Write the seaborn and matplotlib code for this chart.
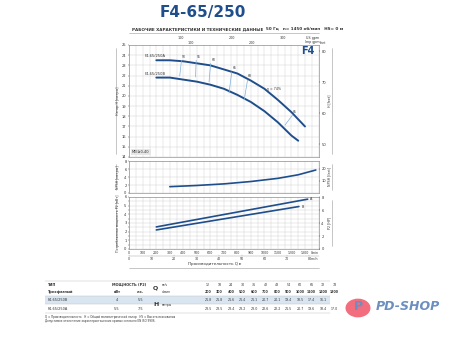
import numpy as np
import pandas as pd
import matplotlib
matplotlib.use("Agg")
import matplotlib.pyplot as plt
import seaborn as sns
from matplotlib.patches import Rectangle, Circle

sns.set_style("white")
plt.rcParams['font.family'] = ['DejaVu Sans']

# ---------------- data ----------------
Q_lmin = [200, 300, 400, 500, 600, 700, 800, 900, 1000, 1100, 1200, 1300]
Q_m3h = [12, 18, 24, 30, 36, 42, 48, 54, 60, 66, 72, 78]
H_A = [23.5, 23.5, 23.4, 23.2, 23.0, 22.6, 22.2, 21.5, 20.7, 19.6, 18.4, 17.0]
Q_B = [200, 300, 400, 500, 600, 700, 800, 900, 1000, 1100, 1200, 1250]
H_B = [21.8, 21.8, 21.6, 21.4, 21.1, 20.7, 20.1, 19.4, 18.5, 17.4, 16.1, 15.6]
H_A_tab = ["23.5", "23.5", "23.4", "23.2", "23.0", "22.6", "22.2", "21.5", "20.7", "19.6", "18.4", "17.0"]
H_B_tab = ["21.8", "21.8", "21.6", "21.4", "21.1", "20.7", "20.1", "19.4", "18.5", "17.4", "16.1", ""]

Q_npsh = [300, 500, 700, 900, 1100, 1250, 1380]
NPSH = [1.6, 1.9, 2.3, 2.9, 3.7, 4.6, 5.8]

Q_pA = [200, 1320]
P_A = [2.55, 5.75]
Q_pB = [200, 1255]
P_B = [2.2, 4.9]

eff_QA = [386, 495, 602, 758, 875, 1208]
eff_HA = [23.5, 23.5, 23.2, 22.35, 21.56, 18.12]
eff_QB = [373, 490, 590, 738, 850, 1152]
eff_HB = [21.95, 21.86, 21.37, 20.28, 19.6, 17.14]
eff_lbl = ["50", "55", "60", "65", "68", "65"]

x_ticks = [0, 100, 200, 300, 400, 500, 600, 700, 800, 900, 1000, 1100, 1200, 1300]
m3h_ticks = [0, 10, 20, 30, 40, 50, 60, 70, 80]
usgpm_ticks = [100, 200, 300]
impgpm_ticks = [100, 200]

BLUE = "#1f4e8c"
LBLUE = "#7fb0dd"
TXT = "#333333"

W, H = 450, 337
fig = plt.figure(figsize=(4.5, 3.37), dpi=100)

X0, X1 = 129.3, 318.5
PXQ = (X1 - X0) / 1400.0


def ax_px(x0, y0, x1, y1):
    return fig.add_axes([x0 / W, 1 - y1 / H, (x1 - x0) / W, (y1 - y0) / H])


def fx(x):
    return x / W


def fy(y):
    return 1 - y / H


fs = 2.6

# title
fig.text(fx(160), fy(12), "F4-65/250", fontsize=11, fontweight="bold", color=BLUE, va="center")
fig.text(fx(132), fy(29), "РАБОЧИЕ ХАРАКТЕРИСТИКИ И ТЕХНИЧЕСКИЕ ДАННЫЕ", fontsize=3, fontweight="bold", color=TXT, va="center")
fig.text(fx(266), fy(29), "50 Гц   n= 1450 об/мин   HS= 0 м", fontsize=3, fontweight="bold", color=TXT, va="center")
fig.add_artist(plt.Line2D([fx(X0), fx(X1)], [fy(33), fy(33)], color="#999999", lw=0.4))


def style(ax, ylim, yticks):
    ax.set_xlim(0, 1400)
    ax.set_ylim(*ylim)
    ax.set_xticks(np.arange(0, 1401, 50))
    ax.set_yticks(yticks)
    ax.grid(True, color="#cccccc", lw=0.3)
    ax.tick_params(labelsize=fs, length=1, width=0.3, pad=1, colors=TXT)
    ax.set_xticklabels([])
    for s in ax.spines.values():
        s.set_color("#777777")
        s.set_linewidth(0.4)
    ax.set_xlabel("")
    ax.set_ylabel("")


def right_axis(ax, lim, ticks):
    r = ax.twinx()
    r.set_ylim(*lim)
    r.set_yticks(ticks)
    r.tick_params(labelsize=fs, length=1, width=0.3, pad=1, colors=TXT)
    for s in r.spines.values():
        s.set_visible(False)
    return r


# ---------- head panel ----------
axH = ax_px(X0, 45, X1, 157)
dfA = pd.DataFrame({"Q": Q_lmin, "H": H_A})
dfB = pd.DataFrame({"Q": Q_B, "H": H_B})
sns.lineplot(data=dfA, x="Q", y="H", ax=axH, color=BLUE, lw=1.4)
sns.lineplot(data=dfB, x="Q", y="H", ax=axH, color=BLUE, lw=1.4)
for qa, ha, qb, hb, l in zip(eff_QA, eff_HA, eff_QB, eff_HB, eff_lbl):
    axH.plot([qa, qb], [ha, hb], color=LBLUE, lw=0.5)
    axH.text(qa + 5, ha + 0.25, l, fontsize=2.2, color=TXT)
style(axH, (14, 25), np.arange(14, 26, 1))
axH.text(115, 23.95, "F4-65/250A", fontsize=2.6, color=TXT, va="center")
axH.text(115, 22.2, "F4-65/250B", fontsize=2.6, color=TXT, va="center")
axH.text(1020, 20.6, "η = 74%", fontsize=2.3, color=TXT)
axH.text(1370, 24.4, "F4", fontsize=7, fontweight="bold", color=BLUE, ha="right", va="center")
axH.text(20, 14.5, "MEI≥0,40", fontsize=2.6, color=TXT, va="center",
         bbox=dict(boxstyle="square,pad=0.3", fc="#e6e6e6", ec="none"))
right_axis(axH, (14 / 0.3048, 25 / 0.3048), [50, 60, 70, 80])
axH.text(1.01, 1.01, "feet", transform=axH.transAxes, fontsize=2.3, color=TXT)
# top axes
for yy, ticks, conv, unit in [(38, usgpm_ticks, 3.785, "US gpm"), (42.5, impgpm_ticks, 4.546, "Imp gpm")]:
    for t in ticks:
        q = t * conv
        fig.text(fx(X0 + q * PXQ), fy(yy), str(t), fontsize=2.4, color=TXT, ha="center", va="center")
    fig.text(fx(312), fy(yy), unit, fontsize=2.4, color=TXT, ha="center", va="center")

# ---------- NPSH panel ----------
axN = ax_px(X0, 160.5, X1, 193)
dfN = pd.DataFrame({"Q": Q_npsh, "N": NPSH})
sns.lineplot(data=dfN, x="Q", y="N", ax=axN, color=BLUE, lw=1.2)
style(axN, (0, 8.2), [0, 2, 4, 6, 8])
right_axis(axN, (0, 8.2 / 0.3048), [10, 20])

# ---------- power panel ----------
axP = ax_px(X0, 197, X1, 249)
dfPA = pd.DataFrame({"Q": Q_pA, "P": P_A})
dfPB = pd.DataFrame({"Q": Q_pB, "P": P_B})
sns.lineplot(data=dfPA, x="Q", y="P", ax=axP, color=BLUE, lw=1.2)
sns.lineplot(data=dfPB, x="Q", y="P", ax=axP, color=BLUE, lw=1.2)
style(axP, (0, 6), [0, 1, 2, 3, 4, 5, 6])
axP.set_yticks(np.arange(0, 6.01, 0.5))
axP.set_yticklabels(["0", "", "1", "", "2", "", "3", "", "4", "", "5", "", "6"])
axP.text(Q_pA[-1] + 20, P_A[-1], "A", fontsize=2.4, color=TXT, va="center")
axP.text(Q_pB[-1] + 20, P_B[-1], "B", fontsize=2.4, color=TXT, va="center")
right_axis(axP, (0, 6 / 0.7457), [0, 2, 4, 6, 8])

# bottom scales
for t in x_ticks:
    fig.text(fx(X0 + t * PXQ), fy(252.5), str(t), fontsize=2.3, color=TXT, ha="center", va="center")
fig.text(fx(X0 + 1340 * PXQ), fy(252.5), "l/min", fontsize=2.3, color=TXT, ha="left", va="center")
fig.add_artist(plt.Line2D([fx(X0), fx(X1)], [fy(256.3), fy(256.3)], color="#999999", lw=0.3))
for t in m3h_ticks:
    xx = X0 + t * 1000 / 60 * PXQ
    fig.add_artist(plt.Line2D([fx(xx), fx(xx)], [fy(256.3), fy(255.3)], color="#999999", lw=0.3))
    fig.text(fx(xx), fy(258.5), str(t), fontsize=2.3, color=TXT, ha="center", va="center")
fig.text(fx(X0 + 1345 * PXQ), fy(258.5), "m³/h", fontsize=2.3, color=TXT, ha="left", va="center")
fig.text(fx(215), fy(264.5), "Производительность Q ▸", fontsize=3, color=TXT, ha="center", va="center")
fig.add_artist(plt.Line2D([fx(X0), fx(X1)], [fy(268), fy(268)], color="#999999", lw=0.4))

# side labels
for (y0, y1, lab) in [(45, 157, "Напор H [метры]"), (160.5, 193, "NPSH [метры]"), (197, 249, "Потребляемая мощность P2 [кВт]")]:
    fig.add_artist(plt.Line2D([fx(116), fx(116)], [fy(y0 + 3), fy(y1 - 3)], color="#999999", lw=0.4))
    fig.text(fx(118.5), fy((y0 + y1) / 2), lab, fontsize=2.3, color=TXT, rotation=90, ha="center", va="center")
for (y0, y1, lab) in [(45, 157, "H [feet]"), (160.5, 193, "NPSH [feet]"), (197, 249, "P2 [HP]")]:
    fig.add_artist(plt.Line2D([fx(332), fx(332)], [fy(y0 + 3), fy(y1 - 3)], color="#999999", lw=0.4))
    fig.text(fx(329), fy((y0 + y1) / 2), lab, fontsize=2.3, color=TXT, rotation=90, ha="center", va="center")

# ---------- table ----------
col_x = [208 + i * 11.5 for i in range(len(Q_lmin))]
fig.add_artist(Rectangle((fx(45), fy(304)), fx(330) - fx(45), fy(296) - fy(304),
                         facecolor="#d9e6f2", edgecolor="none"))
for yy in [281, 296, 304, 313]:
    fig.add_artist(plt.Line2D([fx(45), fx(330)], [fy(yy), fy(yy)], color="#bbbbbb", lw=0.3))
fig.text(fx(48), fy(284.5), "ТИП", fontsize=2.5, color=TXT, fontweight="bold", va="center")
fig.text(fx(48), fy(292), "Трехфазный", fontsize=2.5, color=TXT, fontweight="bold", va="center")
fig.text(fx(129), fy(284.5), "МОЩНОСТЬ (P2)", fontsize=2.5, color=TXT, fontweight="bold", va="center", ha="center")
fig.text(fx(117), fy(292), "кВт", fontsize=2.5, color=TXT, fontweight="bold", va="center", ha="center")
fig.text(fx(141), fy(292), "л.с.", fontsize=2.5, color=TXT, fontweight="bold", va="center", ha="center")
fig.text(fx(153), fy(288), "Q", fontsize=4.5, color=TXT, fontweight="bold", va="center")
fig.text(fx(162), fy(284.5), "м³/ч", fontsize=2.2, color=TXT, va="center")
fig.text(fx(162), fy(292), "л/мин", fontsize=2.2, color=TXT, va="center")
fig.text(fx(153), fy(305), "H", fontsize=4.5, color=TXT, fontweight="bold", va="center")
fig.text(fx(162), fy(305), "метры", fontsize=2.2, color=TXT, va="center")
rows = [("F4-65/250B", "4", "5.5", H_B_tab, 300), ("F4-65/250A", "5.5", "7.5", H_A_tab, 309)]
for name, kw, hp, vals, yy in rows:
    fig.text(fx(48), fy(yy), name, fontsize=2.5, color=TXT, va="center")
    fig.text(fx(117), fy(yy), kw, fontsize=2.5, color=TXT, va="center", ha="center")
    fig.text(fx(141), fy(yy), hp, fontsize=2.5, color=TXT, va="center", ha="center")
    for cx, v in zip(col_x, vals):
        fig.text(fx(cx), fy(yy), v, fontsize=2.3, color=TXT, va="center", ha="center")
for cx, q1, q2 in zip(col_x, Q_m3h, Q_lmin):
    fig.text(fx(cx), fy(284.5), str(q1), fontsize=2.3, color=TXT, va="center", ha="center")
    fig.text(fx(cx), fy(292), str(q2), fontsize=2.3, color=TXT, va="center", ha="center", fontweight="bold")
fig.text(fx(45), fy(317), "Q = Производительность   H = Общий манометрический напор   HS = Высота всасывания",
         fontsize=2, color=TXT, va="center")
fig.text(fx(45), fy(321), "Допустимое отклонение характеристических кривых согласно EN ISO 9906.",
         fontsize=2, color=TXT, va="center")

# logo
fig.add_artist(Circle((fx(358), fy(308)), 12.5 / W, transform=fig.transFigure, facecolor="#f26d7d", edgecolor="none"))
fig.text(fx(358), fy(307), "P", fontsize=9, color="#6a8fc0", fontweight="bold", ha="center", va="center")
fig.text(fx(376), fy(307), "PD-SHOP", fontsize=9, color="#6a8fc0", fontweight="bold", style="italic", va="center")

fig.savefig("out.png", dpi=100)
